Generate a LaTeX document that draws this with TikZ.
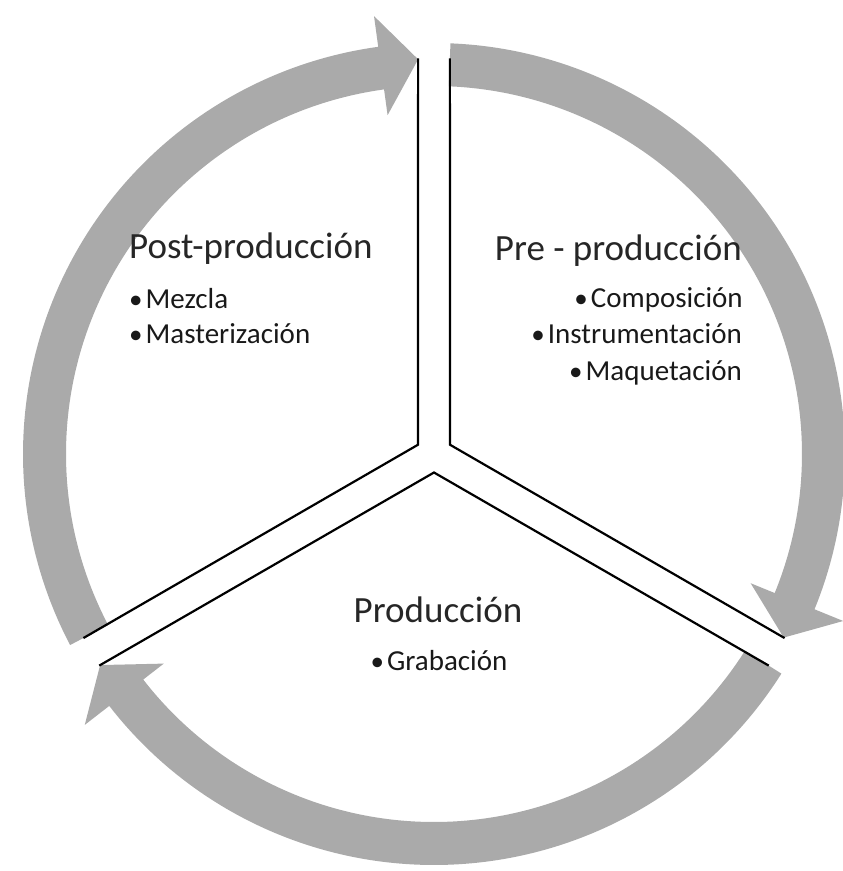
\documentclass[tikz,border=0pt]{standalone}
\usepackage{fontspec}
\setmainfont{Carlito}
\usepackage{tikz}
\usetikzlibrary{positioning,calc}
\definecolor{ringgray}{RGB}{170,170,170}
\tikzset{
  ringfill/.style={fill=ringgray},
  divider/.style={line width=2.2pt, black},
  phasetitle/.style={font=\fontsize{37}{44}\selectfont, inner sep=0pt, text=black!85},
  phaseitem/.style={font=\fontsize{29}{35}\selectfont, inner sep=0pt, text=black!90}
}
% #1 start angle (flat end), #2 tip angle
\newcommand{\ringarrow}[2]{%
  \fill[ringfill] (#1:411pt) arc[start angle=#1, end angle=#2+5.5, radius=411pt]
    -- (#2+5.5:442pt) -- (#2:395pt) -- (#2+5.5:342pt) -- (#2+5.5:368pt)
    arc[start angle=#2+5.5, end angle=#1, radius=368pt] -- cycle;}
\newcommand{\itemdot}{{\fontsize{27}{27}\selectfont\textbullet}\hspace{3pt}}

\begin{document}
\begin{tikzpicture}[x=1pt, y=1pt]
      \useasboundingbox (-434,-417) rectangle (409,454);
      % ring of arrows
      \ringarrow{87.7}{-27.7}
      \ringarrow{-32.3}{-147.7}
      \ringarrow{207.7}{92.3}
      % dividers
      \coordinate (cr) at (30:18.5pt);
      \coordinate (cl) at (150:18.5pt);
      \coordinate (cb) at (-90:18.5pt);
      \draw[divider] (92.3:396pt) -- (cl) -- (-152.3:396pt);
      \draw[divider] (87.7:396pt) -- (cr) -- (-27.7:396pt);
      \draw[divider] (-32.3:396pt) -- (cb) -- (-147.7:396pt);
      % phases
      \node[phasetitle, anchor=base west] (post) at (-305,196) {Post-producción};
      \node[phaseitem, anchor=base west] (mezcla) at (-305,146) {\itemdot Mezcla};
      \node[phaseitem, anchor=base west] (master) at (-305,111) {\itemdot Masterización};
      \node[phasetitle, anchor=base east] (pre) at (308,194) {Pre - producción};
      \node[phaseitem, anchor=base east] (compo) at (309,147) {\itemdot Composición};
      \node[phaseitem, anchor=base east] (instr) at (308,111) {\itemdot Instrumentación};
      \node[phaseitem, anchor=base east] (maque) at (308,74) {\itemdot Maquetación};
      \node[phasetitle, anchor=base] (prod) at (4,-168) {Producción};
      \node[phaseitem, anchor=base] (grab) at (5,-216) {\itemdot Grabación};
    \end{tikzpicture}
\end{document}
